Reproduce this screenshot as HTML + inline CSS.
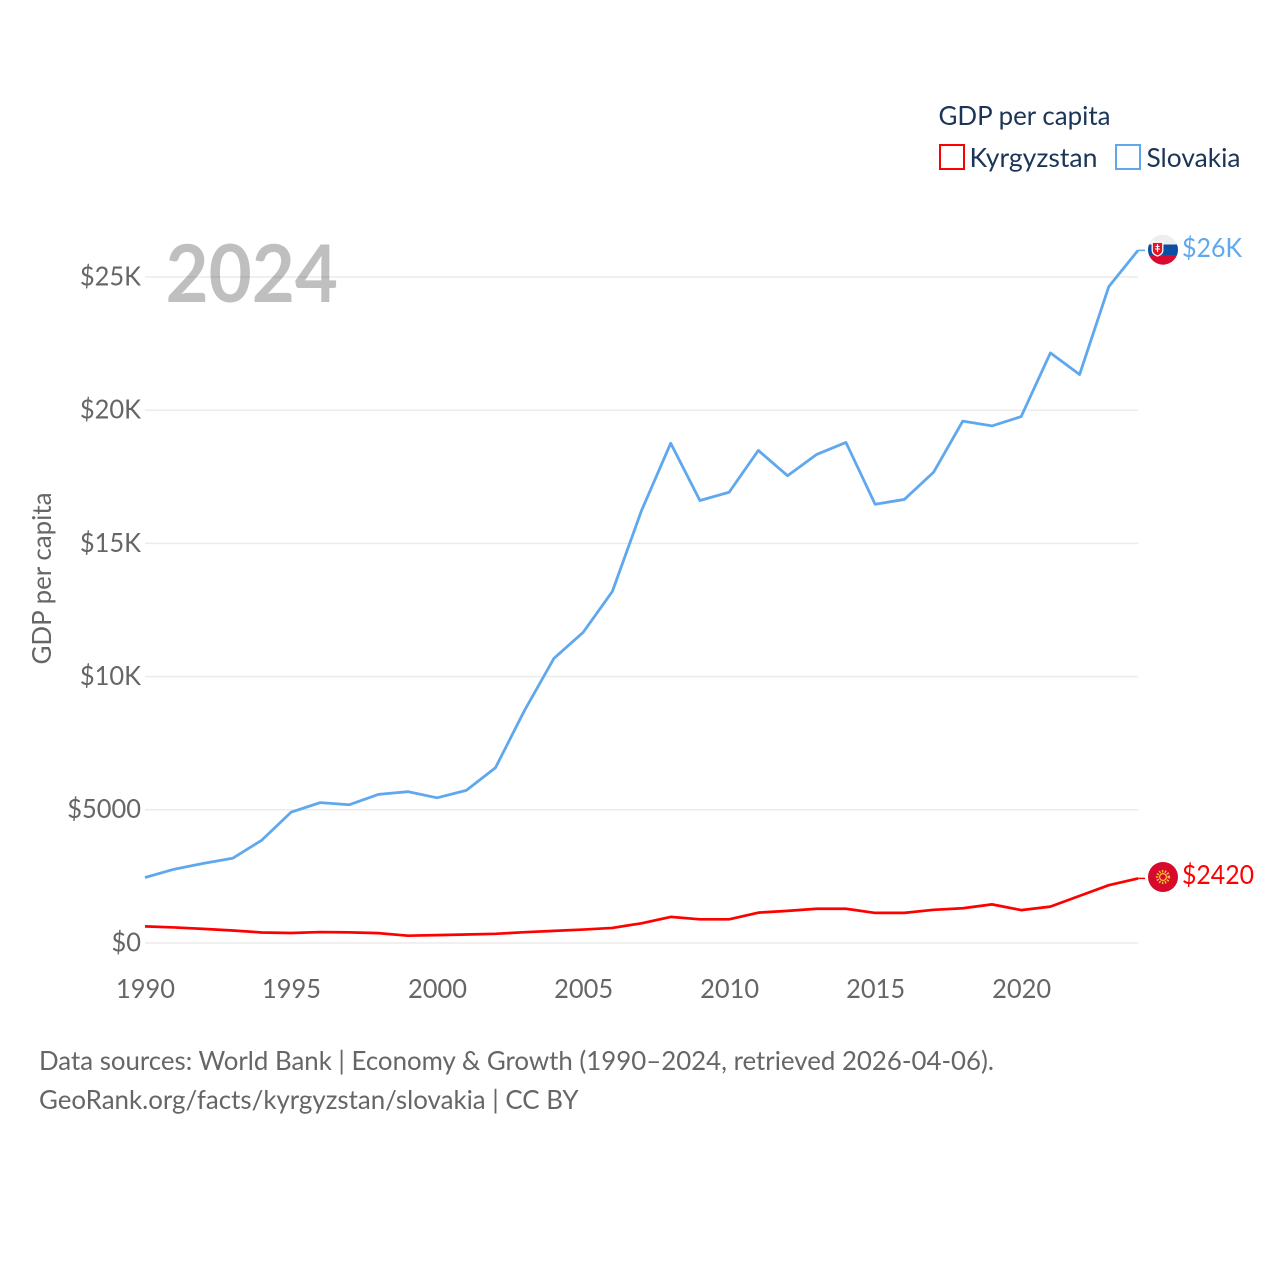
<!DOCTYPE html>
<html>
<head>
<meta charset="utf-8">
<title>GDP per capita: Kyrgyzstan and Slovakia</title>
<style>
html,body{margin:0;padding:0;background:#fff;width:1280px;height:1280px;overflow:hidden}
svg{display:block}
text{font-family:"Lato","Carlito","Liberation Sans",sans-serif}
</style>
</head>
<body>
<svg id="chart" xmlns="http://www.w3.org/2000/svg" width="1280" height="1280" viewBox="0 0 1280 1280">
  <rect width="1280" height="1280" fill="#fff"/>
  <g id="grid"></g>
  <g id="yticks"></g>
  <g id="xticks"></g>
  <text x="165.500" y="302" font-size="80" font-weight="700" fill="#000" fill-opacity="0.25" textLength="172.500" lengthAdjust="spacingAndGlyphs">2024</text>
  <text transform="translate(51,664.500) rotate(-90)" font-size="26.500" fill="#666" textLength="172" lengthAdjust="spacingAndGlyphs">GDP per capita</text>
  <g id="series"></g>

  <g>
    <clipPath id="skClip"><circle cx="1163" cy="249.700" r="15"/></clipPath>
    <g clip-path="url(#skClip)">
      <rect x="1148" y="234" width="30" height="10.500" fill="#eeeeee"/>
      <rect x="1148" y="244.500" width="30" height="10.500" fill="#0b4ea2"/>
      <rect x="1148" y="255" width="30" height="11" fill="#d80c32"/>
    </g>
    <path d="M1152.200 242.200h10.600v8q0 4-5.300 5.800q-5.300-1.800-5.300-5.800z" fill="#e0162b" stroke="#fff" stroke-width="1.300"/>
    <path d="M1157.500 244v8M1155.500 246.500h4M1155 249h5" stroke="#fff" stroke-width="1.100" fill="none"/>
  </g>
  <g>
    <circle cx="1163" cy="877" r="15" fill="#d70a2e"/>
    <circle cx="1163" cy="877" r="5.800" fill="none" stroke="#f2c52d" stroke-width="2.600" stroke-dasharray="1.400 1.500"/>
    <circle cx="1163" cy="877" r="3.400" fill="none" stroke="#f2c52d" stroke-width="1.200"/>
  </g>
  <text x="1182" y="257" font-size="26.500" fill="#5fa8ee" textLength="60" lengthAdjust="spacingAndGlyphs">$26K</text>
  <text x="1182" y="884" font-size="26.500" fill="#ff0000" textLength="72" lengthAdjust="spacingAndGlyphs">$2420</text>

  <g>
    <text x="938.500" y="125" font-size="26.500" fill="#1a3557" textLength="172" lengthAdjust="spacingAndGlyphs">GDP per capita</text>
    <g>
      <rect x="940" y="145" width="24" height="24" fill="#fff" stroke="#ff0000" stroke-width="2"/>
      <text x="969.500" y="167" font-size="26.500" fill="#1a3557" textLength="128" lengthAdjust="spacingAndGlyphs">Kyrgyzstan</text>
    </g>
    <g>
      <rect x="1116" y="145" width="24" height="24" fill="#fff" stroke="#5fa8ee" stroke-width="2"/>
      <text x="1146.500" y="167" font-size="26.500" fill="#1a3557" textLength="94" lengthAdjust="spacingAndGlyphs">Slovakia</text>
    </g>
  </g>
  <text x="39" y="1070" font-size="26.500" fill="#666" textLength="955" lengthAdjust="spacingAndGlyphs">Data sources: World Bank | Economy &amp; Growth (1990–2024, retrieved 2026-04-06).</text>
  <text x="39" y="1109" font-size="26.500" fill="#666" textLength="539.500" lengthAdjust="spacingAndGlyphs">GeoRank.org/facts/kyrgyzstan/slovakia | CC BY</text>
</svg>
<script>
const years = [1990,1991,1992,1993,1994,1995,1996,1997,1998,1999,2000,2001,2002,2003,2004,2005,2006,2007,2008,2009,2010,2011,2012,2013,2014,2015,2016,2017,2018,2019,2020,2021,2022,2023,2024];
const slovakiaValues = [2460,2770,2990,3180,3860,4910,5270,5190,5580,5680,5450,5730,6580,8740,10680,11660,13190,16230,18760,16610,16920,18490,17540,18340,18790,16470,16650,17670,19590,19410,19760,22150,21340,24640,26000];
const kyrgyzstanValues = [625,585,530,470,395,375,410,400,370,275,295,320,345,405,455,505,565,740,980,890,890,1140,1205,1285,1285,1130,1130,1245,1305,1450,1235,1365,1770,2170,2425];
const yTickValues = [0,5000,10000,15000,20000,25000];
const yTickLabels = ["$0","$5000","$10K","$15K","$20K","$25K"];
const xTickValues = [1990,1995,2000,2005,2010,2015,2020];

const NS = "http://www.w3.org/2000/svg";
function xScale(year){ return 145 + (year - 1990) * (1138 - 145) / (2024 - 1990); }
function yScale(value){ return 943 - value * (943 - 277) / 25000; }
function make(tag, attrs){
  const el = document.createElementNS(NS, tag);
  for (const k in attrs) el.setAttribute(k, attrs[k]);
  return el;
}
function squeeze(t){
  t.setAttribute("lengthAdjust", "spacingAndGlyphs");
  t.setAttribute("textLength", (t.getComputedTextLength() * 0.96).toFixed(2));
}
const grid = document.getElementById("grid");
const yticks = document.getElementById("yticks");
const xticks = document.getElementById("xticks");
const series = document.getElementById("series");

yTickValues.forEach(function(v, i){
  const line = make("line", {x1:145, x2:1138, y1:yScale(v), y2:yScale(v), stroke:"#ebebeb", "stroke-width":1.5});
  
  
  grid.appendChild(line);
  const t = make("text", {x:141, y:yScale(v) + 8.4, "text-anchor":"end", "font-size":26.5, fill:"#666"});
  
  
  t.textContent = yTickLabels[i];
  yticks.appendChild(t);
  squeeze(t);
});
xTickValues.forEach(function(v){
  const t = make("text", {x:xScale(v) + 0.5, y:998, "text-anchor":"middle", "font-size":26.5, fill:"#666"});
  
  
  t.textContent = String(v);
  xticks.appendChild(t);
  squeeze(t);
});
function pathFor(values){
  return years.map(function(y, i){ return (i ? "L" : "M") + xScale(y).toFixed(2) + " " + yScale(values[i]).toFixed(2); }).join(" ");
}
const slovakiaLine = make("path", {d:pathFor(slovakiaValues), fill:"none", stroke:"#5fa8ee", "stroke-width":2.8, "stroke-linejoin":"round"});


series.appendChild(slovakiaLine);
const kyrgyzstanLine = make("path", {d:pathFor(kyrgyzstanValues), fill:"none", stroke:"#ff0000", "stroke-width":2.7, "stroke-linejoin":"round"});


series.appendChild(kyrgyzstanLine);
const lastX = xScale(years[years.length - 1]);
const slovakiaLeader = make("line", {x1:lastX, x2:lastX + 7, y1:yScale(slovakiaValues[slovakiaValues.length - 1]), y2:yScale(slovakiaValues[slovakiaValues.length - 1]), stroke:"#5fa8ee", "stroke-width":1.5});


series.appendChild(slovakiaLeader);
const kyrgyzstanLeader = make("line", {x1:lastX, x2:lastX + 7, y1:yScale(kyrgyzstanValues[kyrgyzstanValues.length - 1]), y2:yScale(kyrgyzstanValues[kyrgyzstanValues.length - 1]), stroke:"#ff0000", "stroke-width":1.5});


series.appendChild(kyrgyzstanLeader);
</script>
</body>
</html>
